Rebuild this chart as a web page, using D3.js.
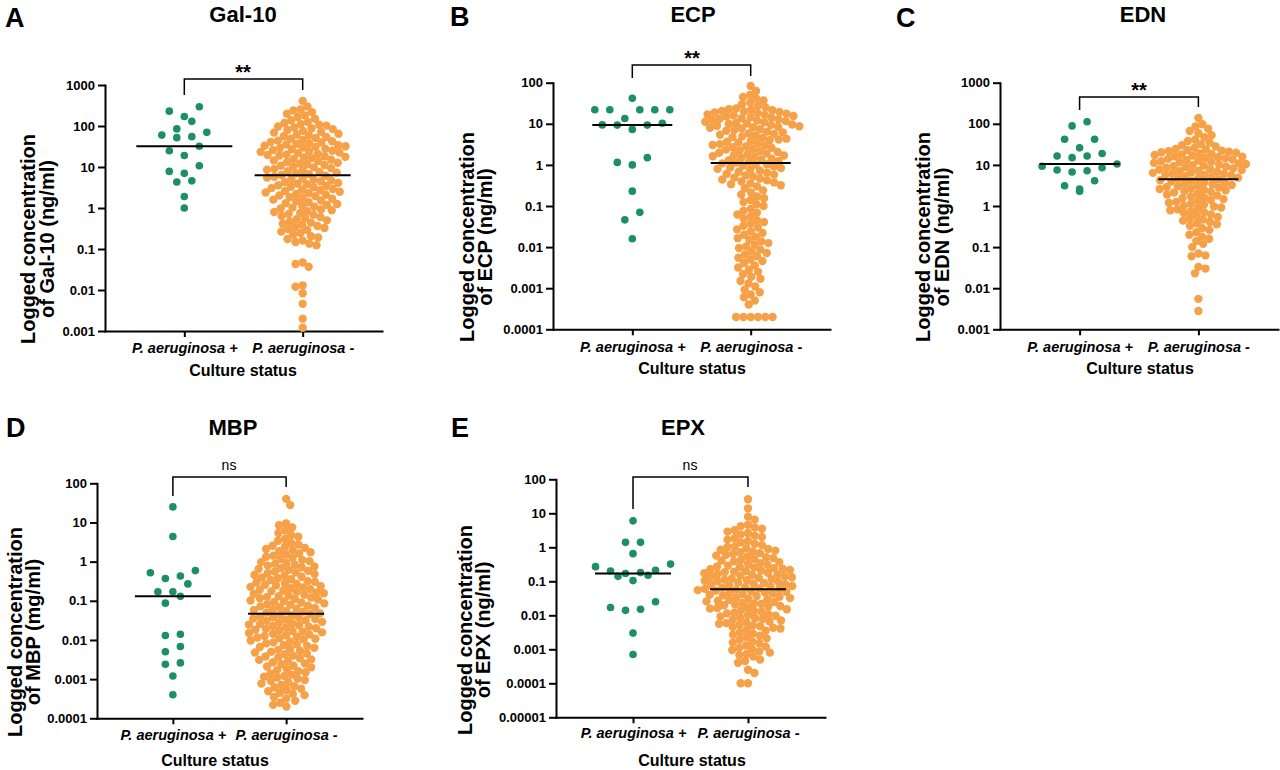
<!DOCTYPE html>
<html>
<head>
<meta charset="utf-8">
<script src="https://cdn.jsdelivr.net/npm/d3@7"></script>
<style>
  body { margin: 0; background: #fff; }
  text { font-family: "Liberation Sans", Arial, sans-serif; fill: #000; }
</style>
</head>
<body>
<div id="chart-area"></div>
<script>
// ---- data (ng/ml; MBP in mg/ml) ----
var categories = ["P. aeruginosa +", "P. aeruginosa -"];

var galPos = [295, 230, 170, 130, 85, 70, 60, 55, 52, 32, 25, 19, 10.7, 7.8, 7, 4.6, 4.3, 1.9, 1.0];
var galNeg = [410, 300, 255,
  240, 218, 200, 182, 166, 150, 138, 125,
  118, 112, 107, 102, 97, 92, 88, 84, 80, 76, 72, 69, 65, 62, 59, 56, 54, 51, 49, 46,
  44, 42.5, 41, 39.5, 38, 37, 35.5, 34, 33, 32, 31, 30, 29, 28, 27, 26, 25, 24.2, 23.4, 22.6, 21.8, 21, 20.3, 19.6, 19, 18.3, 17.7, 17.1,
  16.5, 15.8, 15.1, 14.5, 13.9, 13.3, 12.7, 12.2, 11.7, 11.2, 10.7, 10.3, 9.8, 9.4, 9, 8.6, 8.3, 7.9, 7.6, 7.3, 7, 6.7, 6.4, 6.1,
  5.8, 5.55, 5.3, 5.1, 4.9, 4.7, 4.5, 4.3, 4.1, 3.95, 3.8, 3.6, 3.45, 3.3, 3.2, 3.05, 2.9, 2.8, 2.7, 2.6, 2.5, 2.4, 2.3, 2.2, 2.1, 2.02,
  1.95, 1.85, 1.76, 1.68, 1.6, 1.52, 1.45, 1.38, 1.31, 1.25, 1.19, 1.13, 1.07, 1.02, 0.97, 0.92, 0.88, 0.84, 0.8, 0.76, 0.72,
  0.68, 0.64, 0.6, 0.565, 0.53, 0.5, 0.47, 0.44, 0.415, 0.39, 0.365, 0.345, 0.325, 0.305,
  0.29, 0.265, 0.245, 0.225, 0.205, 0.19, 0.175, 0.16, 0.148, 0.135, 0.124,
  0.047, 0.043, 0.037, 0.013, 0.012, 0.0083, 0.0046, 0.002, 0.0012];

var ecpPos = [42, 22, 22, 22, 22, 22, 13.5, 10.3, 9.4, 9.3, 9.3, 7.3, 1.5, 1.15, 1.0, 0.23, 0.07, 0.046, 0.016];
var ecpNeg = [83, 63,
  50, 45, 41, 37, 33, 30, 27.5, 25,
  23.5, 22.8, 22, 21.3, 20.6, 20, 19.4, 18.8, 18.2, 17.6, 17, 16.5, 16, 15.5, 15, 14.5, 14, 13.6, 13.2, 12.8,
  12.4, 12, 11.6, 11.2, 10.9, 10.5, 10.2, 9.9, 9.6, 9.3, 9, 8.7, 8.5, 8.2, 8,
  7.7, 7.35, 7.05, 6.75, 6.45, 6.2, 5.9, 5.65, 5.4, 5.2, 4.95, 4.75, 4.55, 4.35, 4.15, 4, 3.8, 3.65,
  3.5, 3.35, 3.2, 3.05, 2.95, 2.8, 2.7, 2.6, 2.45, 2.35, 2.25, 2.15, 2.07, 1.98, 1.9, 1.82, 1.75, 1.7,
  1.63, 1.56, 1.49, 1.42, 1.36, 1.3, 1.24, 1.19, 1.14, 1.09, 1.04, 1, 0.95, 0.91, 0.87, 0.84,
  0.8, 0.76, 0.72, 0.68, 0.645, 0.61, 0.58, 0.55, 0.52, 0.49, 0.465, 0.44, 0.42, 0.395, 0.375, 0.355, 0.34, 0.32,
  0.3, 0.27, 0.24, 0.215, 0.19, 0.17, 0.155, 0.14, 0.125, 0.11, 0.1,
  0.085, 0.077, 0.069, 0.062, 0.056, 0.05, 0.045, 0.041, 0.037, 0.033, 0.03, 0.027, 0.024,
  0.022, 0.02, 0.018, 0.0165, 0.015, 0.0137, 0.0125, 0.0114, 0.0104, 0.0095, 0.0087, 0.0079, 0.0072, 0.0066, 0.006, 0.0055, 0.005, 0.0046,
  0.0041, 0.0036, 0.0032, 0.0028, 0.0025, 0.0022, 0.0019, 0.0017, 0.0015, 0.0013, 0.0011,
  0.00092, 0.0008, 0.0007, 0.0006, 0.0005, 0.0004,
  0.0002, 0.0002, 0.0002, 0.0002, 0.0002, 0.0002];

var ednPos = [112, 89, 42, 42, 26, 19, 16.5, 16.5, 15, 10.5, 9.3, 8.5, 7.5, 7.2, 6.7, 4.1, 3.1, 2.6, 2.3];
var ednNeg = [138,
  98, 86, 76, 67, 59, 53, 47,
  41, 38, 35, 32, 30, 28, 26,
  24.5, 23.7, 23, 22.3, 21.6, 20.9, 20.3, 19.7, 19.1, 18.5, 17.9, 17.4, 16.8, 16.3, 15.8, 15.3, 14.9, 14.4, 14, 13.5,
  13.1, 12.7, 12.3, 11.9, 11.6, 11.2, 10.9, 10.5, 10.2, 9.9, 9.6, 9.3, 9, 8.7, 8.5, 8.2, 7.9, 7.7, 7.5, 7.2,
  7, 6.8, 6.6, 6.4, 6.2, 6, 5.8, 5.65,
  5.5, 5.3, 5.1, 4.9, 4.75, 4.6,
  4.4, 4.25, 4.1, 3.95, 3.8, 3.65, 3.5, 3.4, 3.25, 3.15, 3.0, 2.9, 2.8, 2.7, 2.6, 2.5, 2.4, 2.3, 2.22,
  2.12, 2.01, 1.91, 1.81, 1.72, 1.63, 1.55, 1.47, 1.4, 1.33, 1.26, 1.2, 1.14, 1.08, 1.02, 0.97, 0.92, 0.87, 0.83, 0.79, 0.75, 0.71,
  0.67, 0.62, 0.58, 0.54, 0.5, 0.47, 0.44, 0.41, 0.38, 0.36,
  0.33, 0.29, 0.26, 0.23, 0.2, 0.18, 0.16, 0.14, 0.12,
  0.1, 0.07, 0.063, 0.06, 0.033, 0.03, 0.023, 0.0055, 0.0028];

var mbpPos = [25, 4.4, 0.59, 0.52, 0.43, 0.37, 0.27, 0.17, 0.17, 0.13, 0.087, 0.014, 0.013, 0.0068, 0.005, 0.0026, 0.0024, 0.0012, 0.0004];
var mbpNeg = [40, 28,
  9.5, 8.5, 7.5,
  6.2, 5.4, 4.8, 4.3, 3.8, 3.4, 3.0, 2.75, 2.55,
  2.4, 2.25, 2.1, 1.97, 1.85, 1.73, 1.62, 1.52, 1.42, 1.33, 1.25, 1.17, 1.1, 1.03,
  0.97, 0.92, 0.875, 0.83, 0.79, 0.75, 0.715, 0.68, 0.65, 0.615, 0.585, 0.555, 0.53, 0.505, 0.48, 0.455, 0.435, 0.41, 0.39, 0.375, 0.355, 0.34, 0.32, 0.305,
  0.292, 0.28, 0.268, 0.257, 0.247, 0.237, 0.227, 0.218, 0.209, 0.2, 0.192, 0.184, 0.177, 0.17, 0.163, 0.156, 0.15, 0.143, 0.137, 0.132, 0.126, 0.121, 0.116, 0.111, 0.107, 0.102,
  0.098, 0.094, 0.09, 0.086, 0.082, 0.079, 0.075, 0.072, 0.069, 0.066, 0.063, 0.06, 0.058, 0.055, 0.053, 0.05, 0.048,
  0.046, 0.044, 0.042, 0.04, 0.038, 0.037, 0.035, 0.034, 0.033, 0.032, 0.031,
  0.029, 0.028, 0.0268, 0.0257, 0.0247, 0.0237, 0.0227, 0.0218, 0.0209, 0.02, 0.0192, 0.0184, 0.0177, 0.017, 0.0163, 0.0156, 0.015, 0.0143, 0.0137, 0.0132, 0.0126, 0.0121, 0.0116, 0.0111, 0.0107, 0.0102,
  0.0097, 0.0092, 0.0087, 0.0082, 0.0078, 0.0074, 0.007, 0.0066, 0.0063, 0.0059, 0.0056, 0.0053, 0.005, 0.0048, 0.0045, 0.0043, 0.004, 0.0038, 0.0036, 0.0034, 0.0032, 0.0031,
  0.0029, 0.0027, 0.0025, 0.0024, 0.0022, 0.0021, 0.002, 0.0018, 0.0017, 0.0016, 0.0015, 0.0014, 0.0013, 0.0012, 0.00115, 0.0011, 0.00102,
  0.00095, 0.0009, 0.00083, 0.00077, 0.00071, 0.00066, 0.00061, 0.00057, 0.00053, 0.00049, 0.00045, 0.00042, 0.00039, 0.00035, 0.00032,
  0.00028, 0.00025, 0.00022, 0.0002];

var epxPos = [6, 1.4, 1.4, 0.65, 0.32, 0.27, 0.21, 0.2, 0.18, 0.17, 0.15, 0.14, 0.105, 0.025, 0.017, 0.015, 0.014, 0.003, 0.0007];
var epxNeg = [26, 14, 8, 6.5,
  4.6, 4.2, 3.8, 3.5, 3.2, 2.9, 2.65, 2.4, 2.2, 2.0, 1.84, 1.68, 1.53, 1.4, 1.27, 1.16, 1.06,
  1.0, 0.945, 0.893, 0.844, 0.8, 0.755, 0.713, 0.674, 0.637, 0.6, 0.57, 0.54, 0.51, 0.48, 0.455, 0.43, 0.405, 0.385, 0.363, 0.343, 0.324, 0.306, 0.29, 0.274,
  0.264, 0.254, 0.244, 0.235, 0.226, 0.217, 0.209, 0.201, 0.193, 0.186, 0.179, 0.172, 0.165, 0.159, 0.153, 0.147, 0.141, 0.136, 0.131, 0.126,
  0.121, 0.116, 0.112, 0.108, 0.104, 0.1, 0.096, 0.092, 0.089, 0.085, 0.082, 0.079, 0.076, 0.073, 0.07, 0.067, 0.065, 0.062, 0.06, 0.059,
  0.057, 0.055, 0.053, 0.051, 0.049, 0.047, 0.046,
  0.044, 0.042, 0.04, 0.0385, 0.0368, 0.0352, 0.0336, 0.0321, 0.0307, 0.0294, 0.0281, 0.0269, 0.0257, 0.0246, 0.0235, 0.0225, 0.0215, 0.0206, 0.0197, 0.0188, 0.018, 0.0172, 0.0164, 0.0157, 0.015,
  0.0142, 0.0134, 0.0127, 0.012, 0.0114, 0.0108, 0.0102, 0.0097, 0.0092, 0.0087, 0.0082, 0.0078, 0.0074, 0.007, 0.0066, 0.0063, 0.0059, 0.0056, 0.0053, 0.005, 0.0048, 0.0045, 0.0043, 0.0041, 0.0038,
  0.0035, 0.0032, 0.0029, 0.0027, 0.0025, 0.0023, 0.0021, 0.0019, 0.0017, 0.0016, 0.0015, 0.0013, 0.0012, 0.0011, 0.001, 0.00095, 0.00087, 0.0008, 0.00073, 0.00067, 0.00061,
  0.0005, 0.00045, 0.0004, 0.00025, 0.0002, 0.0001, 0.0001];

// tick values / labels
var ticks1000 = [0.001, 0.01, 0.1, 1, 10, 100, 1000];
var labels1000 = ["0.001", "0.01", "0.1", "1", "10", "100", "1000"];
var ticks100 = [0.0001, 0.001, 0.01, 0.1, 1, 10, 100];
var labels100 = ["0.0001", "0.001", "0.01", "0.1", "1", "10", "100"];
var ticks100e = [0.00001, 0.0001, 0.001, 0.01, 0.1, 1, 10, 100];
var labels100e = ["0.00001", "0.0001", "0.001", "0.01", "0.1", "1", "10", "100"];

var green = "#1b8f66", orange = "#f6a148";

// ---- layout per panel ----
var panels = [
  { letter: "A", lx: 5, ly: 27, title: "Gal-10", tx: 243, ty: 22, unit: "of Gal-10 (ng/ml)",
    pos: galPos, neg: galNeg, ticks: ticks1000, labels: labels1000, domain: [0.001, 1000],
    x0: 105, x1: 382, yTop: 85, yBot: 331, ylx: [35, 54], yly: 239, catY: 353, xtY: 376, xtX: 243,
    br: 79, legL: 95, legR: 90, sig: "**", sigX: 243, sigY: 79, medW: 48 },
  { letter: "B", lx: 450, ly: 26, title: "ECP", tx: 693, ty: 22, unit: "of ECP (ng/ml)",
    pos: ecpPos, neg: ecpNeg, ticks: ticks100, labels: labels100, domain: [0.0001, 100],
    x0: 553, x1: 830, yTop: 82.7, yBot: 329.3, ylx: [474, 492], yly: 237, catY: 352, xtY: 374, xtX: 692,
    br: 65, legL: 78, legR: 76, sig: "**", sigX: 692, sigY: 65, medW: 40 },
  { letter: "C", lx: 896, ly: 27, title: "EDN", tx: 1143, ty: 22, unit: "of EDN (ng/ml)",
    pos: ednPos, neg: ednNeg, ticks: ticks1000, labels: labels1000, domain: [0.001, 1000],
    x0: 1000, x1: 1278, yTop: 82.7, yBot: 329.3, ylx: [930, 949], yly: 237, catY: 352, xtY: 374, xtX: 1140,
    br: 97, legL: 110, legR: 107, sig: "**", sigX: 1139, sigY: 97, medW: 40 },
  { letter: "D", lx: 6, ly: 437, title: "MBP", tx: 233, ty: 435, unit: "of MBP (mg/ml)",
    pos: mbpPos, neg: mbpNeg, ticks: ticks100, labels: labels100, domain: [0.0001, 100],
    x0: 97, x1: 362, yTop: 483.3, yBot: 718.3, ylx: [22, 40], yly: 632, catY: 740, xtY: 766, xtX: 215,
    br: 477, legL: 496, legR: 487, sig: "ns", sigX: 229, sigY: 470, medW: 38 },
  { letter: "E", lx: 451, ly: 437, title: "EPX", tx: 683, ty: 435, unit: "of EPX (ng/ml)",
    pos: epxPos, neg: epxNeg, ticks: ticks100e, labels: labels100e, domain: [0.00001, 100],
    x0: 556, x1: 825, yTop: 479.3, yBot: 717.3, ylx: [472, 490], yly: 630, catY: 738, xtY: 766, xtX: 692,
    br: 477, legL: 509, legR: 487, sig: "ns", sigX: 690, sigY: 470, medW: 38 }
];

var svg = d3.select("#chart-area")
  .append("svg")
  .attr("width", 1280)
  .attr("height", 770);

svg.append("rect").attr("width", 1280).attr("height", 770).attr("fill", "#fff");

// rows of near-equal values spread symmetrically (the small group)
function rowSwarm(vals, y, cx, rowH, step) {
  var pts = vals.map(function (v) { return { v: v, y: y(v) }; })
    .sort(function (a, b) { return a.y - b.y; });
  var out = [], row = [];
  function flush() {
    var n = row.length;
    var slots = d3.range(n).map(function (i) { return (i - (n - 1) / 2) * step; })
      .sort(function (a, b) { return Math.abs(a) - Math.abs(b) || a - b; });
    row.slice().sort(function (a, b) { return a.v - b.v; }).forEach(function (pt, i) {
      pt.x = cx + slots[i];
      out.push(pt);
    });
    row = [];
  }
  pts.forEach(function (pt) {
    if (row.length && pt.y - row[0].y >= rowH) flush();
    row.push(pt);
  });
  if (row.length) flush();
  return out;
}

// greedy packed beeswarm (the large group)
function packSwarm(vals, y, cx, dist) {
  var pts = vals.map(function (v) { return { v: v, y: y(v) }; })
    .sort(function (a, b) { return a.y - b.y; });
  var placed = [], side = 1;
  pts.forEach(function (pt) {
    var near = placed.filter(function (q) { return Math.abs(q.y - pt.y) < dist; });
    var cands = [0];
    near.forEach(function (q) {
      var dx = Math.sqrt(dist * dist - (q.y - pt.y) * (q.y - pt.y));
      cands.push(q.dx + dx, q.dx - dx);
    });
    cands.sort(function (a, b) {
      var d = Math.abs(a) - Math.abs(b);
      if (Math.abs(d) > 1e-6) return d;
      return (b - a) * side;
    });
    var best = cands.find(function (c) {
      return near.every(function (q) {
        return (q.dx - c) * (q.dx - c) + (q.y - pt.y) * (q.y - pt.y) >= dist * dist - 0.01;
      });
    });
    pt.dx = best;
    if (best !== 0) side = best > 0 ? -1 : 1;
    placed.push(pt);
  });
  return placed.map(function (pt) { return { v: pt.v, y: pt.y, x: cx + pt.dx }; });
}

panels.forEach(function (p) {
  var g = svg.append("g");

  var y = d3.scaleLog().domain(p.domain).range([p.yBot, p.yTop]);
  var x = d3.scalePoint().domain(categories).range([p.x0, p.x1]).padding(0.67);

  // y axis
  var yAxisCall = d3.axisLeft(y)
    .tickValues(p.ticks)
    .tickFormat(function (d, i) { return p.labels[i]; })
    .tickSize(7)
    .tickSizeOuter(0)
    .tickPadding(3);
  var yAxisGroup = g.append("g")
    .attr("transform", "translate(" + p.x0 + ",0)")
    .call(yAxisCall);

  // x axis
  var xAxisCall = d3.axisBottom(x).tickSize(6).tickSizeOuter(0).tickPadding(5);
  var xAxisGroup = g.append("g")
    .attr("transform", "translate(0," + p.yBot + ")")
    .call(xAxisCall);

  [yAxisGroup, xAxisGroup].forEach(function (ax) {
    ax.selectAll("path, line").attr("stroke", "#000").attr("stroke-width", 2);
    ax.select(".domain").attr("stroke-linecap", "square");
  });
  yAxisGroup.selectAll("text")
    .attr("font-size", "13px").attr("font-weight", "bold").attr("fill", "#000");
  xAxisGroup.selectAll("text")
    .attr("font-size", "14.5px").attr("font-weight", "bold").attr("font-style", "italic")
    .attr("fill", "#000")
    .attr("y", null).attr("dy", null)
    .attr("transform", "translate(0," + (p.catY - p.yBot) + ")");

  // points
  var c1 = x(categories[0]), c2 = x(categories[1]);
  var posPts = rowSwarm(p.pos, y, c1, 10, 15);
  var negPts = packSwarm(p.neg, y, c2, 7.3);

  g.append("g").selectAll("circle")
    .data(negPts)
    .enter()
    .append("circle")
    .attr("cx", function (d) { return d.x; })
    .attr("cy", function (d) { return d.y; })
    .attr("r", 4.2)
    .attr("fill", orange);

  g.append("g").selectAll("circle")
    .data(posPts)
    .enter()
    .append("circle")
    .attr("cx", function (d) { return d.x; })
    .attr("cy", function (d) { return d.y; })
    .attr("r", 3.8)
    .attr("fill", green);

  // medians
  [[c1, d3.median(p.pos)], [c2, d3.median(p.neg)]].forEach(function (m) {
    g.append("line")
      .attr("x1", m[0] - p.medW).attr("x2", m[0] + p.medW)
      .attr("y1", y(m[1])).attr("y2", y(m[1]))
      .attr("stroke", "#000").attr("stroke-width", 2);
  });

  // significance bracket
  g.append("path")
    .attr("d", "M" + c1 + "," + p.legL + "V" + p.br + "H" + c2 + "V" + p.legR)
    .attr("fill", "none").attr("stroke", "#000").attr("stroke-width", 1.5);
  g.append("text")
    .attr("x", p.sigX).attr("y", p.sigY)
    .attr("text-anchor", "middle")
    .attr("font-size", p.sig === "ns" ? "14px" : "20px")
    .attr("font-weight", p.sig === "ns" ? "normal" : "bold")
    .text(p.sig);

  // y label, two lines
  ["Logged concentration", p.unit].forEach(function (t, i) {
    g.append("text")
      .attr("transform", "translate(" + p.ylx[i] + "," + p.yly + ") rotate(-90)")
      .attr("text-anchor", "middle")
      .attr("font-size", "20px")
      .attr("font-weight", "bold")
      .text(t);
  });

  // x title
  g.append("text")
    .attr("x", p.xtX).attr("y", p.xtY)
    .attr("text-anchor", "middle")
    .attr("font-size", "16px").attr("font-weight", "bold")
    .text("Culture status");

  // panel title and letter
  g.append("text")
    .attr("x", p.tx).attr("y", p.ty)
    .attr("text-anchor", "middle")
    .attr("font-size", "22px").attr("font-weight", "bold")
    .text(p.title);
  g.append("text")
    .attr("x", p.lx).attr("y", p.ly)
    .attr("font-size", "27px").attr("font-weight", "bold")
    .text(p.letter);
});
</script>
</body>
</html>
